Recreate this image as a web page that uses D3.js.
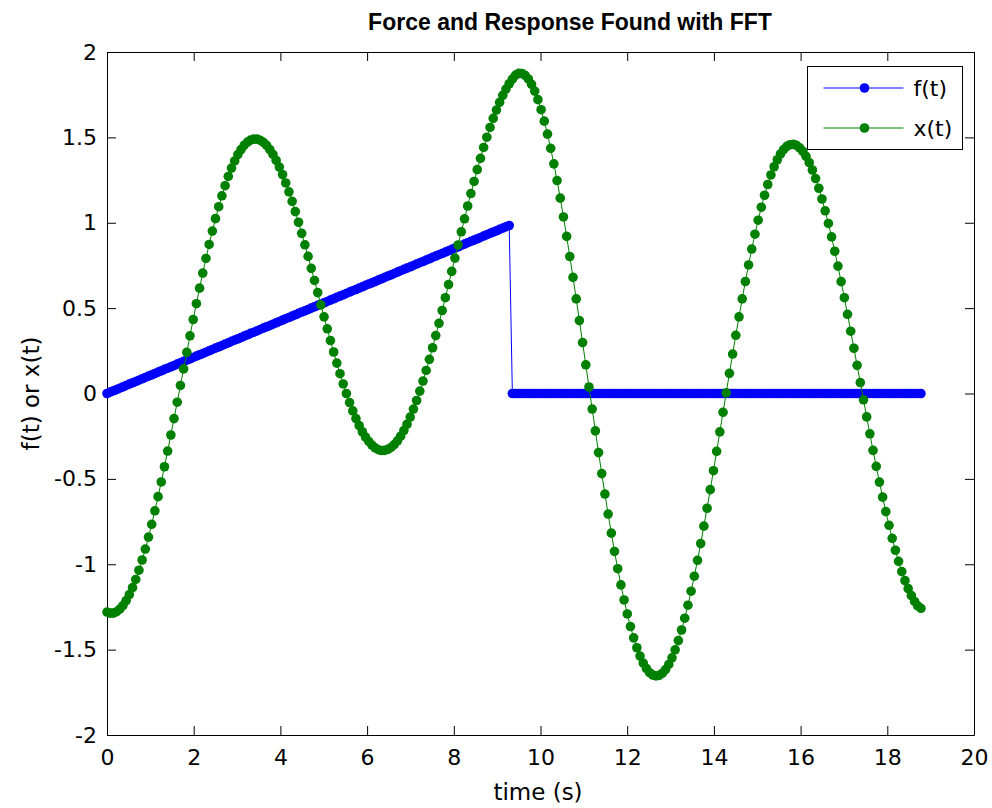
<!DOCTYPE html>
<html>
<head>
<meta charset="utf-8">
<script src="https://cdn.jsdelivr.net/npm/d3@7"></script>
<style>
  body { margin: 0; background: #fff; }
  text { font-family: "DejaVu Sans", "Liberation Sans", Arial, sans-serif; fill: #000; }
</style>
</head>
<body>
<svg id="chart" width="992" height="808"></svg>
<script>
// sample times (s)
var time = [
  0.000, 0.074, 0.147, 0.221, 0.295, 0.368, 0.442, 0.515, 0.589, 0.663, 0.736, 0.810, 0.884, 0.957, 1.031, 1.104,
  1.178, 1.252, 1.325, 1.399, 1.473, 1.546, 1.620, 1.694, 1.767, 1.841, 1.914, 1.988, 2.062, 2.135, 2.209, 2.283,
  2.356, 2.430, 2.503, 2.577, 2.651, 2.724, 2.798, 2.872, 2.945, 3.019, 3.093, 3.166, 3.240, 3.313, 3.387, 3.461,
  3.534, 3.608, 3.682, 3.755, 3.829, 3.902, 3.976, 4.050, 4.123, 4.197, 4.271, 4.344, 4.418, 4.491, 4.565, 4.639,
  4.712, 4.786, 4.860, 4.933, 5.007, 5.081, 5.154, 5.228, 5.301, 5.375, 5.449, 5.522, 5.596, 5.670, 5.743, 5.817,
  5.890, 5.964, 6.038, 6.111, 6.185, 6.259, 6.332, 6.406, 6.480, 6.553, 6.627, 6.700, 6.774, 6.848, 6.921, 6.995,
  7.069, 7.142, 7.216, 7.289, 7.363, 7.437, 7.510, 7.584, 7.658, 7.731, 7.805, 7.879, 7.952, 8.026, 8.099, 8.173,
  8.247, 8.320, 8.394, 8.468, 8.541, 8.615, 8.688, 8.762, 8.836, 8.909, 8.983, 9.057, 9.130, 9.204, 9.278, 9.351,
  9.425, 9.498, 9.572, 9.646, 9.719, 9.793, 9.867, 9.940, 10.014, 10.087, 10.161, 10.235, 10.308, 10.382, 10.456, 10.529,
  10.603, 10.676, 10.750, 10.824, 10.897, 10.971, 11.045, 11.118, 11.192, 11.266, 11.339, 11.413, 11.486, 11.560, 11.634, 11.707,
  11.781, 11.855, 11.928, 12.002, 12.075, 12.149, 12.223, 12.296, 12.370, 12.444, 12.517, 12.591, 12.665, 12.738, 12.812, 12.885,
  12.959, 13.033, 13.106, 13.180, 13.254, 13.327, 13.401, 13.474, 13.548, 13.622, 13.695, 13.769, 13.843, 13.916, 13.990, 14.063,
  14.137, 14.211, 14.284, 14.358, 14.432, 14.505, 14.579, 14.653, 14.726, 14.800, 14.873, 14.947, 15.021, 15.094, 15.168, 15.242,
  15.315, 15.389, 15.463, 15.536, 15.610, 15.683, 15.757, 15.831, 15.904, 15.978, 16.052, 16.125, 16.199, 16.272, 16.346, 16.420,
  16.493, 16.567, 16.641, 16.714, 16.788, 16.861, 16.935, 17.009, 17.082, 17.156, 17.230, 17.303, 17.377, 17.451, 17.524, 17.598,
  17.671, 17.745, 17.819, 17.892, 17.966, 18.040, 18.113, 18.187, 18.260, 18.334, 18.408, 18.481, 18.555, 18.629, 18.702, 18.776
];

// f(t): ramp then zero
var force = [
  0.000, 0.008, 0.016, 0.023, 0.031, 0.039, 0.047, 0.055, 0.063, 0.070, 0.078, 0.086, 0.094, 0.102, 0.109, 0.117,
  0.125, 0.133, 0.141, 0.148, 0.156, 0.164, 0.172, 0.180, 0.188, 0.195, 0.203, 0.211, 0.219, 0.227, 0.234, 0.242,
  0.250, 0.258, 0.266, 0.273, 0.281, 0.289, 0.297, 0.305, 0.313, 0.320, 0.328, 0.336, 0.344, 0.352, 0.359, 0.367,
  0.375, 0.383, 0.391, 0.398, 0.406, 0.414, 0.422, 0.430, 0.438, 0.445, 0.453, 0.461, 0.469, 0.477, 0.484, 0.492,
  0.500, 0.508, 0.516, 0.523, 0.531, 0.539, 0.547, 0.555, 0.563, 0.570, 0.578, 0.586, 0.594, 0.602, 0.609, 0.617,
  0.625, 0.633, 0.641, 0.648, 0.656, 0.664, 0.672, 0.680, 0.688, 0.695, 0.703, 0.711, 0.719, 0.727, 0.734, 0.742,
  0.750, 0.758, 0.766, 0.773, 0.781, 0.789, 0.797, 0.805, 0.813, 0.820, 0.828, 0.836, 0.844, 0.852, 0.859, 0.867,
  0.875, 0.883, 0.891, 0.898, 0.906, 0.914, 0.922, 0.930, 0.938, 0.945, 0.953, 0.961, 0.969, 0.977, 0.984, 0,
  0, 0, 0, 0, 0, 0, 0, 0, 0, 0, 0, 0, 0, 0, 0, 0,
  0, 0, 0, 0, 0, 0, 0, 0, 0, 0, 0, 0, 0, 0, 0, 0,
  0, 0, 0, 0, 0, 0, 0, 0, 0, 0, 0, 0, 0, 0, 0, 0,
  0, 0, 0, 0, 0, 0, 0, 0, 0, 0, 0, 0, 0, 0, 0, 0,
  0, 0, 0, 0, 0, 0, 0, 0, 0, 0, 0, 0, 0, 0, 0, 0,
  0, 0, 0, 0, 0, 0, 0, 0, 0, 0, 0, 0, 0, 0, 0, 0,
  0, 0, 0, 0, 0, 0, 0, 0, 0, 0, 0, 0, 0, 0, 0, 0,
  0, 0, 0, 0, 0, 0, 0, 0, 0, 0, 0, 0, 0, 0, 0, 0
];

// x(t): response
var response = [
  -1.280, -1.286, -1.286, -1.278, -1.263, -1.242, -1.213, -1.178, -1.137, -1.089, -1.035, -0.975, -0.911, -0.841, -0.766, -0.687,
  -0.604, -0.518, -0.429, -0.337, -0.243, -0.147, -0.051, 0.047, 0.144, 0.241, 0.338, 0.433, 0.526, 0.617, 0.705, 0.791,
  0.873, 0.951, 1.024, 1.094, 1.158, 1.217, 1.271, 1.320, 1.362, 1.399, 1.429, 1.454, 1.472, 1.484, 1.490, 1.490,
  1.483, 1.471, 1.453, 1.429, 1.400, 1.365, 1.326, 1.282, 1.233, 1.181, 1.125, 1.065, 1.003, 0.938, 0.871, 0.803,
  0.733, 0.662, 0.591, 0.519, 0.449, 0.379, 0.310, 0.243, 0.178, 0.116, 0.056, 0.000, -0.053, -0.102, -0.147, -0.188,
  -0.224, -0.255, -0.281, -0.302, -0.318, -0.329, -0.334, -0.333, -0.327, -0.316, -0.299, -0.277, -0.250, -0.217, -0.180, -0.138,
  -0.091, -0.041, 0.014, 0.073, 0.135, 0.200, 0.268, 0.339, 0.411, 0.486, 0.561, 0.638, 0.715, 0.793, 0.870, 0.947,
  1.023, 1.098, 1.171, 1.242, 1.311, 1.377, 1.441, 1.501, 1.558, 1.611, 1.660, 1.705, 1.746, 1.783, 1.814, 1.841,
  1.865, 1.875, 1.874, 1.863, 1.842, 1.811, 1.771, 1.721, 1.662, 1.595, 1.519, 1.436, 1.345, 1.247, 1.144, 1.034,
  0.920, 0.802, 0.680, 0.554, 0.427, 0.298, 0.168, 0.038, -0.091, -0.219, -0.346, -0.469, -0.589, -0.706, -0.818, -0.925,
  -1.026, -1.121, -1.209, -1.291, -1.365, -1.431, -1.489, -1.538, -1.579, -1.611, -1.635, -1.649, -1.654, -1.651, -1.638, -1.617,
  -1.587, -1.548, -1.501, -1.447, -1.385, -1.316, -1.240, -1.158, -1.070, -0.977, -0.879, -0.777, -0.672, -0.563, -0.452, -0.339,
  -0.225, -0.110, 0.004, 0.118, 0.231, 0.341, 0.449, 0.554, 0.656, 0.753, 0.846, 0.933, 1.015, 1.091, 1.161, 1.224,
  1.280, 1.328, 1.369, 1.403, 1.429, 1.447, 1.457, 1.459, 1.453, 1.439, 1.418, 1.389, 1.352, 1.309, 1.259, 1.202,
  1.139, 1.070, 0.996, 0.917, 0.833, 0.746, 0.655, 0.561, 0.464, 0.365, 0.265, 0.165, 0.064, -0.037, -0.137, -0.236,
  -0.333, -0.427, -0.519, -0.607, -0.692, -0.772, -0.848, -0.918, -0.983, -1.043, -1.096, -1.143, -1.184, -1.218, -1.244, -1.258
];

var xTicks = [0, 2, 4, 6, 8, 10, 12, 14, 16, 18, 20];
var yTicks = [-2, -1.5, -1, -0.5, 0, 0.5, 1, 1.5, 2];
var seriesNames = ['f(t)', 'x(t)'];
var seriesColors = ['#0000ff', '#008000'];

var margin = { top: 52, right: 18, bottom: 73, left: 107 };
var width = 992 - margin.left - margin.right;
var height = 808 - margin.top - margin.bottom;

var svg = d3.select('#chart');
var g = svg.append('g').attr('transform', 'translate(' + margin.left + ',' + margin.top + ')');

var x = d3.scaleLinear().domain([0, 20]).range([0, width]);
var y = d3.scaleLinear().domain([-2, 2]).range([height, 0]);

var fmt = function(d) { return String(d); };

// axes, ticks pointing inward on all four sides (box on)
g.append('g').attr('transform', 'translate(0,' + height + ')')
  .call(d3.axisBottom(x).tickValues(xTicks).tickFormat(fmt).tickSizeInner(-9).tickSizeOuter(0).tickPadding(14));
g.append('g')
  .call(d3.axisLeft(y).tickValues(yTicks).tickFormat(fmt).tickSizeInner(-9).tickSizeOuter(0).tickPadding(10));
g.append('g')
  .call(d3.axisTop(x).tickValues(xTicks).tickFormat('').tickSizeInner(-9).tickSizeOuter(0));
g.append('g').attr('transform', 'translate(' + width + ',0)')
  .call(d3.axisRight(y).tickValues(yTicks).tickFormat('').tickSizeInner(-9).tickSizeOuter(0));

g.selectAll('.domain').attr('stroke', '#000').attr('stroke-width', 1);
g.selectAll('.tick line').attr('stroke', '#000');
g.selectAll('.tick text')
  .style('font-family', '"DejaVu Sans", sans-serif')
  .style('font-size', '22px').attr('fill', '#000');

var series = [force, response];

var line = d3.line()
  .x(function(d, i) { return x(time[i]); })
  .y(function(d) { return y(d); });

series.forEach(function(values, s) {
  var sg = g.append('g');
  sg.append('path')
    .datum(values)
    .attr('fill', 'none')
    .attr('stroke', seriesColors[s])
    .attr('stroke-width', 1)
    .attr('d', line);
  sg.selectAll('circle').data(values).enter()
    .append('circle')
    .attr('cx', function(d, i) { return x(time[i]); })
    .attr('cy', function(d) { return y(d); })
    .attr('r', 4.8)
    .attr('fill', seriesColors[s]);
});

// title and labels
svg.append('text')
  .attr('x', 570).attr('y', 30)
  .attr('text-anchor', 'middle')
  .style('font-family', '"Liberation Sans", Arial, sans-serif')
  .style('font-size', '23px').style('font-weight', 'bold')
  .text('Force and Response Found with FFT');

svg.append('text')
  .attr('x', 538).attr('y', 800)
  .attr('text-anchor', 'middle')
  .style('font-size', '23px')
  .text('time (s)');

svg.append('text')
  .attr('transform', 'translate(39,' + (margin.top + height / 2) + ') rotate(-90)')
  .attr('text-anchor', 'middle')
  .style('font-size', '23px')
  .text('f(t) or x(t)');

// legend
var legend = svg.append('g').attr('transform', 'translate(807.5,66.5)');
legend.append('rect')
  .attr('width', 155).attr('height', 83)
  .attr('fill', '#fff').attr('stroke', '#000').attr('stroke-width', 1);

seriesNames.forEach(function(name, s) {
  var ly = 21.5 + s * 40;
  legend.append('line')
    .attr('x1', 16).attr('x2', 96).attr('y1', ly).attr('y2', ly)
    .attr('stroke', seriesColors[s]).attr('stroke-width', 1);
  legend.append('circle')
    .attr('cx', 57).attr('cy', ly).attr('r', 4.8)
    .attr('fill', seriesColors[s]);
  legend.append('text')
    .attr('x', 106).attr('y', ly).attr('dy', '0.35em')
    .style('font-size', '22px')
    .text(name);
});
</script>
</body>
</html>
